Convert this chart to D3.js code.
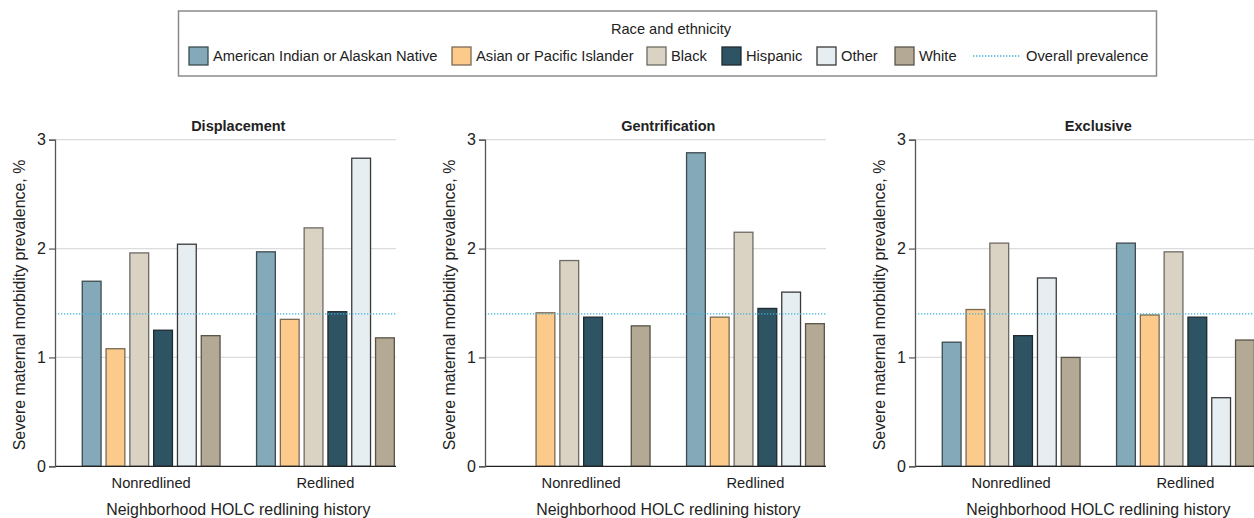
<!DOCTYPE html>
<html><head><meta charset="utf-8">
<script src="https://cdn.jsdelivr.net/npm/d3@7"></script>
<style>
html,body{margin:0;padding:0;background:#fff;}
svg text{font-family:"Liberation Sans",Arial,sans-serif;fill:#222;}
</style></head>
<body><svg id="chart" width="1254" height="518"></svg>
<script>
const panels = ["Displacement", "Gentrification", "Exclusive"];
const groups = ["Nonredlined", "Redlined"];
const series = ["American Indian or Alaskan Native", "Asian or Pacific Islander", "Black", "Hispanic", "Other", "White"];
const colors = ["#84a9b8", "#fccb8b", "#dad3c4", "#2e5362", "#e6eef1", "#b4a994"];
const strokes = ["#3d4a50", "#7a6a55", "#6e6a64", "#1e2a30", "#3a3a3a", "#5a5448"];
// values[group][series] per panel
const displacement = [[1.70, 1.08, 1.96, 1.25, 2.04, 1.20], [1.97, 1.35, 2.19, 1.42, 2.83, 1.18]];
const gentrification = [[null, 1.41, 1.89, 1.37, null, 1.29], [2.88, 1.37, 2.15, 1.45, 1.60, 1.31]];
const exclusive = [[1.14, 1.44, 2.05, 1.20, 1.73, 1.00], [2.05, 1.39, 1.97, 1.37, 0.63, 1.16]];
const panelValues = [displacement, gentrification, exclusive];
const overallPrevalence = 1.40;
const yTicks = [0, 1, 2, 3];
const yLabel = "Severe maternal morbidity prevalence, %";
const xLabel = "Neighborhood HOLC redlining history";
const legendTitle = "Race and ethnicity";
const lineLabel = "Overall prevalence";

const svg = d3.select("#chart");
const axisX0 = 55, panelStep = 430, plotTop = 139.7, plotBottom = 466.3, visW = 341, fullW = 366.6;
const y = d3.scaleLinear().domain([0, 3]).range([plotBottom, plotTop]);
const x0 = d3.scaleBand().domain(groups).range([0, fullW]).paddingInner(0.2025).paddingOuter(0.153);
const x1 = d3.scaleBand().domain(series).range([0, x0.bandwidth()]).paddingInner(0.16);

const defs = svg.append("defs");
defs.append("clipPath").attr("id", "clip").append("rect")
  .attr("x", 0).attr("y", 0).attr("width", visW).attr("height", 518);

panels.forEach((title, pi) => {
  const g = svg.append("g").attr("transform", `translate(${axisX0 + pi * panelStep},0)`);
  const vals = panelValues[pi];
  const inner = g.append("g").attr("clip-path", "url(#clip)");
  inner.selectAll("line.grid").data(yTicks.filter(d => d > 0)).join("line")
    .attr("x1", 0).attr("x2", visW).attr("y1", d => y(d)).attr("y2", d => y(d))
    .attr("stroke", "#dcdcdc").attr("stroke-width", 1.2);
  groups.forEach((grp, gi) => {
    const gg = inner.append("g").attr("transform", `translate(${x0(grp)},0)`);
    const data = series.map((s, si) => ({s, si, v: vals[gi][si]})).filter(d => d.v != null);
    gg.selectAll("rect").data(data).join("rect")
      .attr("x", d => x1(d.s) + 0.6).attr("width", x1.bandwidth() - 1.2)
      .attr("y", d => y(d.v)).attr("height", d => y(0) - y(d.v))
      .attr("fill", d => colors[d.si]).attr("stroke", d => strokes[d.si]).attr("stroke-width", 1.3);
  });
  inner.append("line").attr("x1", 0).attr("x2", visW)
    .attr("y1", y(overallPrevalence)).attr("y2", y(overallPrevalence))
    .attr("stroke", "#3cb0dc").attr("stroke-width", 1.4).attr("stroke-dasharray", "1.3,1.7");
  inner.append("line").attr("x1", 0).attr("x2", visW).attr("y1", y(0)).attr("y2", y(0))
    .attr("stroke", "#222").attr("stroke-width", 1.3);
  const ya = g.append("g").call(d3.axisLeft(y).tickValues(yTicks).tickSize(6).tickPadding(3).tickFormat(d3.format("d")));
  ya.select(".domain").attr("stroke", "#555").attr("stroke-width", 1.3);
  ya.selectAll(".tick line").attr("stroke", "#555").attr("stroke-width", 1.2);
  ya.selectAll("text").style("font-size", "16px").attr("fill", "#222");
  g.selectAll("text.grp").data(groups).join("text").attr("class", "grp")
    .attr("x", d => x0(d) + x0.bandwidth() / 2).attr("y", 488)
    .attr("text-anchor", "middle").style("font-size", "14.7px").text(d => d);
  g.append("text").attr("x", fullW / 2).attr("y", 515).attr("text-anchor", "middle")
    .style("font-size", "15.9px").text(xLabel);
  g.append("text").attr("x", fullW / 2).attr("y", 131).attr("text-anchor", "middle")
    .style("font-size", "14.5px").style("font-weight", "bold").text(title);
  g.append("text").attr("transform", `translate(-30,${(plotTop + plotBottom) / 2 + 2}) rotate(-90)`)
    .attr("text-anchor", "middle").style("font-size", "15.9px").text(yLabel);
});

// legend
const lg = svg.append("g");
lg.append("rect").attr("x", 178.5).attr("y", 11).attr("width", 978).attr("height", 65)
  .attr("fill", "#fff").attr("stroke", "#8a8a8a").attr("stroke-width", 1.5);
lg.append("text").attr("x", 671).attr("y", 34).attr("text-anchor", "middle").style("font-size", "14.6px").text(legendTitle);
const legendX = [189, 452, 647, 722, 817, 895];
series.forEach((s, i) => {
  lg.append("rect").attr("x", legendX[i]).attr("y", 47).attr("width", 19).attr("height", 18)
    .attr("fill", colors[i]).attr("stroke", strokes[i]).attr("stroke-width", 1.3);
  lg.append("text").attr("x", legendX[i] + 24).attr("y", 61).style("font-size", "14.7px").text(s);
});
lg.append("line").attr("x1", 973).attr("x2", 1020).attr("y1", 56).attr("y2", 56)
  .attr("stroke", "#3cb0dc").attr("stroke-width", 1.4).attr("stroke-dasharray", "1.3,1.7");
lg.append("text").attr("x", 1026).attr("y", 61).style("font-size", "14.7px").text(lineLabel);
</script></body></html>
